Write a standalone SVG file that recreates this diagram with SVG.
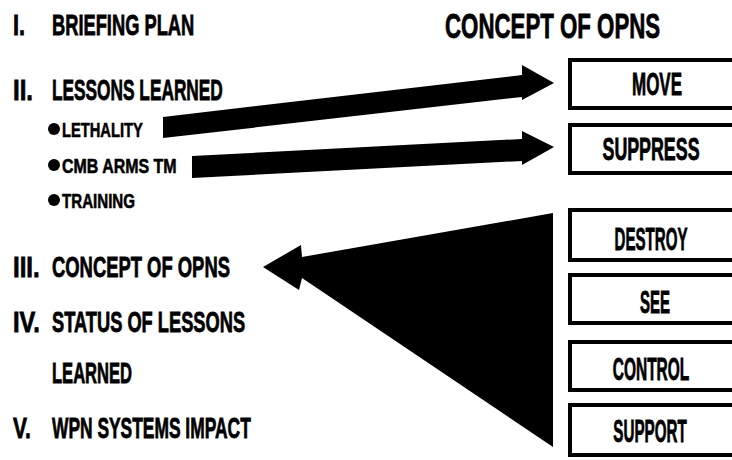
<svg xmlns="http://www.w3.org/2000/svg" width="732" height="460" viewBox="0 0 732 460">
<style>
text{font-family:"Liberation Sans",Arial,sans-serif;font-weight:bold;fill:#000;stroke:#000;stroke-width:0.8}
.h{font-size:30px}
.b{font-size:21px;stroke-width:0.6}
.t{font-size:35px}
.bx{font-size:31px;text-anchor:middle}
.box{fill:#fff;stroke:#000;stroke-width:4}
.arr{fill:#000}
</style>
<rect width="732" height="460" fill="#fff"/>
<g id="outline">
<text class="h" transform="translate(13,35) scale(0.72,1)">I.</text>
<text class="h" transform="translate(52,35) scale(0.61,1)">BRIEFING PLAN</text>
<text class="h" transform="translate(13,100) scale(0.8,1)">II.</text>
<text class="h" transform="translate(52,100) scale(0.576,1)">LESSONS LEARNED</text>
<circle cx="54" cy="129" r="6"/>
<text class="b" transform="translate(62,137) scale(0.7,1)">LETHALITY</text>
<circle cx="54" cy="165" r="6"/>
<text class="b" transform="translate(62,173) scale(0.76,1)">CMB ARMS TM</text>
<circle cx="54" cy="200" r="6"/>
<text class="b" transform="translate(62,208) scale(0.72,1)">TRAINING</text>
<text class="h" transform="translate(13,277) scale(0.8,1)">III.</text>
<text class="h" transform="translate(52,277) scale(0.614,1)">CONCEPT OF OPNS</text>
<text class="h" transform="translate(13,332) scale(0.79,1)">IV.</text>
<text class="h" transform="translate(52,332) scale(0.609,1)">STATUS OF LESSONS</text>
<text class="h" transform="translate(52,383) scale(0.552,1)">LEARNED</text>
<text class="h" transform="translate(13,438) scale(0.7,1)">V.</text>
<text class="h" transform="translate(52,438) scale(0.58,1)">WPN SYSTEMS IMPACT</text>
</g>
<g id="title">
<text class="t" transform="translate(445,38) scale(0.636,1)">CONCEPT OF OPNS</text>
</g>
<g id="connectors">
<polygon class="arr" points="163,117 522,75 522,65 554,83 522,100 522,97 163,138"/>
<polygon class="arr" points="192,156 522,139 522,131 554,147 522,165 522,161 192,178"/>
<polygon class="arr" points="263,267 301,245 302,257 553,213 553,447 302,278 299,290"/>
</g>
<g id="move"><rect class="box" x="570" y="60" width="200" height="48"/><text class="bx" transform="translate(657,95) scale(0.548,1)">MOVE</text></g>
<g id="suppress"><rect class="box" x="570" y="125" width="200" height="48"/><text class="bx" transform="translate(651,160) scale(0.575,1)">SUPPRESS</text></g>
<g id="destroy"><rect class="box" x="570" y="210" width="200" height="50"/><text class="bx" transform="translate(651,250) scale(0.487,1)">DESTROY</text></g>
<g id="see"><rect class="box" x="570" y="275" width="200" height="48"/><text class="bx" transform="translate(655,313) scale(0.484,1)">SEE</text></g>
<g id="control"><rect class="box" x="570" y="342" width="200" height="48"/><text class="bx" transform="translate(651,380) scale(0.5,1)">CONTROL</text></g>
<g id="support"><rect class="box" x="570" y="405" width="200" height="50"/><text class="bx" transform="translate(650,442) scale(0.49,1)">SUPPORT</text></g>
</svg>
